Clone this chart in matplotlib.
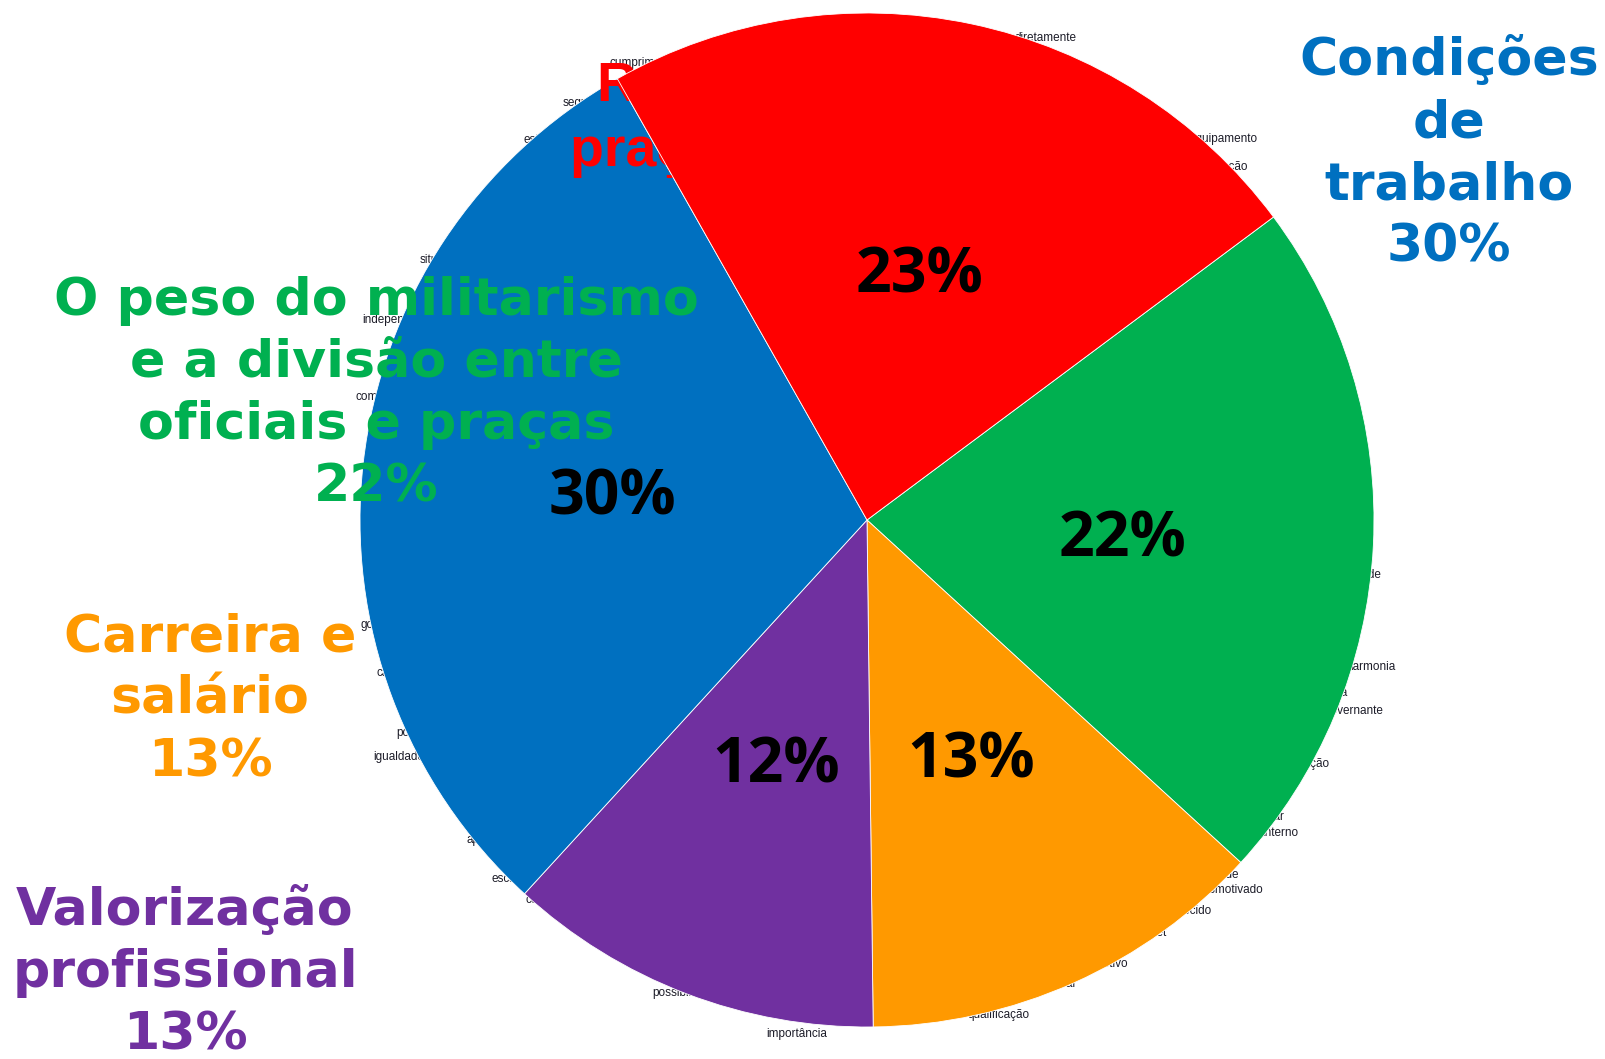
import matplotlib.pyplot as plt

W, H = 1606, 1059

# slices, clockwise from the top-left
values = [23, 22, 13, 12, 30]
colors = ['#FF0000', '#00B050', '#FF9900', '#7030A0', '#0070C0']

# outer category labels (red one is mostly hidden under its own slice)
red_label_lines = ["Relações", "praças e oficiais"]
label_names = ["O peso do militarismo\ne a divisão entre\noficiais e praças",
               "Carreira e\nsalário",
               "Valorização\nprofissional",
               "Condições\nde\ntrabalho"]
label_pcts = ["22%", "13%", "13%", "30%"]
label_colors = ['#00B050', '#FF9900', '#7030A0', '#0070C0']

# word-cloud fragments sitting behind the pie: (text, x, y, align)
bg_words = [
    ("cumprimento", 610, 63, 'left'),
    ("segurança", 563, 103, 'left'),
    ("estrutura", 524, 140, 'left'),
    ("situação", 420, 260, 'left'),
    ("independência", 362, 320, 'left'),
    ("comando", 356, 397, 'left'),
    ("governo", 361, 625, 'left'),
    ("carga", 377, 673, 'left'),
    ("polícia", 396, 733, 'left'),
    ("igualdade", 373, 757, 'left'),
    ("apoio", 467, 840, 'left'),
    ("escala", 492, 879, 'left'),
    ("comunidade", 526, 900, 'left'),
    ("possibilidade", 652, 993, 'left'),
    ("importância", 797, 1034, 'center'),
    ("qualificação", 1030, 1015, 'right'),
    ("social", 1076, 984, 'right'),
    ("efetivo", 1128, 964, 'right'),
    ("internet", 1167, 933, 'right'),
    ("reconhecido", 1212, 911, 'right'),
    ("sociedade", 1239, 875, 'right'),
    ("desmotivado", 1263, 890, 'right'),
    ("familiar", 1285, 817, 'right'),
    ("interno", 1298, 833, 'right'),
    ("organização", 1330, 764, 'right'),
    ("hierarquia", 1347, 693, 'right'),
    ("governante", 1383, 711, 'right'),
    ("harmonia", 1395, 667, 'right'),
    ("saúde", 1382, 575, 'right'),
    ("equipamento", 1258, 139, 'right'),
    ("alimentação", 1248, 167, 'right'),
    ("diretamente", 1077, 38, 'right'),
]

fig = plt.figure(figsize=(W / 100, H / 100), dpi=100)
ax = fig.add_axes([0, 0, 1, 1])

for txt, x, y, ha in bg_words:
    ax.text(x, H - y, txt, ha=ha, va='center', fontsize=8.5,
            family='Liberation Sans', color='#1c1c28', zorder=0.5)

wedges, _, pcts = ax.pie(values, colors=colors, startangle=119.5, counterclock=False,
                         center=(867, H - 520), radius=507,
                         autopct=lambda p: f'{p:.0f}%', pctdistance=0.505,
                         wedgeprops=dict(edgecolor='white', linewidth=0.6),
                         textprops=dict(family='Open Sans', fontweight='bold',
                                        fontsize=45, color='black'),
                         frame=True)
for w in wedges:
    w.set_zorder(2)
wedges[0].set_zorder(3)
for t in pcts:
    t.set_zorder(6)
    t.set_y(t.get_position()[1] - 7)

# red label lines, under the red slice but over the blue one
for line, x, y in zip(red_label_lines, [596, 570], [87, 152]):
    ax.text(x, H - y, line, ha='left', va='center', fontsize=40,
            family='Liberation Sans', fontweight='bold', color='#FF0000', zorder=2.5)

label_xy = [(376, 394), (210, 700), (185, 973), (1449, 154)]
for name, pct, col, (x, y) in zip(label_names, label_pcts, label_colors, label_xy):
    ax.text(x, H - y, name + "\n" + pct, ha='center', va='center', multialignment='center',
            fontsize=37.5, family='DejaVu Sans', fontweight='bold', color=col,
            linespacing=1.31, zorder=5)

ax.set_xlim(0, W)
ax.set_ylim(0, H)
ax.set_aspect('equal')
ax.axis('off')

fig.savefig('out.png', dpi=100)
